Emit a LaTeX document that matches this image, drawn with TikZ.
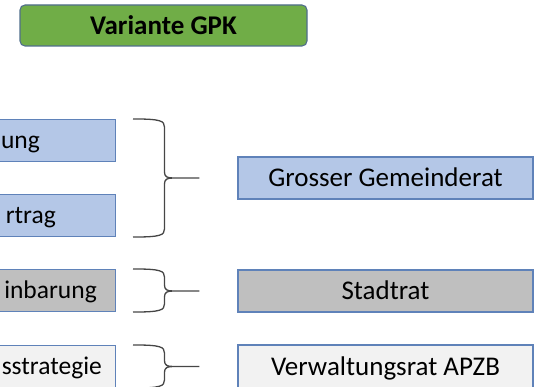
\documentclass[tikz,border=0pt]{standalone}
\usepackage{fontspec}
\setmainfont{Carlito}
\usepackage{xcolor}
\usepackage{tikz}
\usetikzlibrary{positioning, calc}
\definecolor{gpkGreen}{RGB}{112, 173, 71}
\definecolor{gpkGreenLine}{RGB}{80, 110, 140}
\definecolor{gpkBlue}{RGB}{180, 199, 231}
\definecolor{gpkBlueLine}{RGB}{95, 130, 185}
\definecolor{gpkGray}{RGB}{191, 191, 191}
\definecolor{gpkLight}{RGB}{242, 242, 242}
\definecolor{gpkBrace}{RGB}{70, 70, 70}
\newcommand{\grossschrift}{\fontsize{27}{32}\selectfont}
\newcommand{\randschrift}{\fontsize{25.5}{30}\selectfont}
% curly brace: #1 top box, #2 bottom box, #3 target box
\newcommand{\klammer}[3]{%
	\coordinate (ko) at ($(#1.north east)+(17,0)$);
	\coordinate (ku) at ($(#2.south east)+(17,0)$);
	\coordinate (ks) at ($(#3.west)+(-38,0)$);
	\coordinate (km) at ($(ks)+(-35,0)$);
	\draw[klammerlinie] (ko) .. controls +(28,0) and +(0,-6) .. ($(ko -| km)+(0,8)$)
	-- ($(ks -| km)+(0,-6)$) .. controls +(0,5) and +(-6,0) .. ($(ks)+(-26,0)$) -- (ks)
	-- ($(ks)+(-26,0)$) .. controls +(-6,0) and +(0,-5) .. ($(ks -| km)+(0,6)$)
	-- ($(ku -| km)+(0,-8)$) .. controls +(0,6) and +(28,0) .. (ku);
}

\begin{document}
\begin{tikzpicture}[x=1pt, y=-1pt,
	box/.style={draw=gpkBlueLine, line width=1.1pt, inner sep=0pt,
		minimum height=42, font=\grossschrift, text height=17.4pt, text depth=0pt},
	lbox/.style={box, anchor=east, minimum width=220},
	rbox/.style={box, minimum width=295},
	txt/.style={font=\randschrift, inner sep=0pt, anchor=east, text height=16.4pt, text depth=0pt},
	klammerlinie/.style={draw=gpkBrace, line width=1.3pt}]
	\useasboundingbox (0,0) rectangle (535,387);
	\clip (0,0) rectangle (535,387);
	% title
	\node[box, draw=gpkGreenLine, fill=gpkGreen, rounded corners=5pt, minimum width=287,
	minimum height=41, font=\grossschrift\bfseries] (titel) at (163.5,25.5) {Variante GPK};
	% left column (cut off at the left edge)
	\node[lbox, fill=gpkBlue] (L1) at (116,140.5) {};
	\node[lbox, fill=gpkBlue] (L2) at (116,215.5) {};
	\node[lbox, fill=gpkGray] (L3) at (116,290.5) {};
	\node[lbox, fill=gpkLight] (L4) at (116,366.5) {};
	\node[txt] (t1) at (40,140.5) {ung};
	\node[txt] (t2) at (56,215.5) {rtrag};
	\node[txt] (t3) at (97,290.5) {inbarung};
	\node[txt] (t4) at (102,366.5) {sstrategie};
	% right column
	\node[rbox, fill=gpkBlue] (R1) at (385.5,178) {Grosser Gemeinderat};
	\node[rbox, fill=gpkGray] (R2) at (385.5,291) {Stadtrat};
	\node[rbox, fill=gpkLight, minimum height=43] (R3) at (385.5,366.5) {Verwaltungsrat APZB};
	% braces
	\klammer{L1}{L2}{R1}
	\klammer{L3}{L3}{R2}
	\klammer{L4}{L4}{R3}
\end{tikzpicture}
\end{document}
